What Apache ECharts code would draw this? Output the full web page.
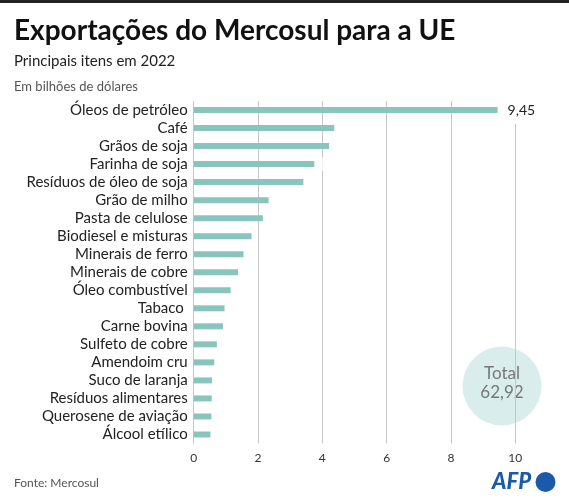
<!DOCTYPE html>
<html><head><meta charset="utf-8">
<script src="https://cdn.jsdelivr.net/npm/echarts@6/dist/echarts.min.js"></script>
<style>html,body{margin:0;padding:0;background:#fff}#c{width:569px;height:500px}</style>
</head><body><div id="c"></div>
<script>
const categories = ["Óleos de petróleo","Café","Grãos de soja","Farinha de soja","Resíduos de óleo de soja","Grão de milho","Pasta de celulose","Biodiesel e misturas","Minerais de ferro","Minerais de cobre","Óleo combustível","Tabaco ","Carne bovina","Sulfeto de cobre","Amendoim cru","Suco de laranja","Resíduos alimentares","Querosene de aviação","Álcool etílico"];
const values = [9.45,4.37,4.21,3.75,3.41,2.33,2.15,1.80,1.55,1.38,1.15,0.96,0.91,0.72,0.64,0.57,0.56,0.55,0.52];
const xTicks = [0,2,4,6,8,10];
const labelText = {0: "9,45"};
const totalText = ["Total","62,92"];
const FONT = "Lato";

const chart = echarts.init(document.getElementById('c'), null, {renderer:'canvas'});
chart.setOption({
  animation:false,
  backgroundColor:'#fff',
  grid:{left:193.7, top:101, width:321.6, height:342.5, containLabel:false},
  xAxis:{type:'value', min:xTicks[0], max:xTicks[xTicks.length-1], interval:2,
    axisLine:{show:false}, axisTick:{show:false},
    splitLine:{show:true, lineStyle:{color:'#c6c6c6', width:1}},
    axisLabel:{color:'#333', fontSize:12, fontFamily:FONT, margin:9}},
  yAxis:{type:'category', data:categories, inverse:true,
    axisLine:{show:false}, axisTick:{show:false},
    axisLabel:{color:'#222', fontSize:15, fontFamily:FONT, margin:6, interval:0}},
  series:[{type:'bar', data:values, barWidth:6, itemStyle:{color:'#88c5bf'},
    label:{show:true, position:'right', distance:8, fontFamily:FONT, fontSize:14, color:'#222',
      backgroundColor:'#fff', padding:[2,2,12,2],
      formatter:p=>labelText[p.dataIndex]||''}}],
  graphic:[
    {type:'rect', shape:{x:0,y:0,width:569,height:3}, style:{fill:'#222'}},
    {type:'text', left:14, top:17, style:{text:'Exportações do Mercosul para a UE', font:'bold 28px '+FONT, fill:'#111'}},
    {type:'text', left:14, top:54, style:{text:'Principais itens em 2022', font:'15px '+FONT, fill:'#222'}},
    {type:'text', left:14, top:80, style:{text:'Em bilhões de dólares', font:'13px '+FONT, fill:'#555'}},
    {type:'circle', shape:{cx:502, cy:386, r:39.5}, style:{fill:'#d9eeec'}},
    {type:'text', x:502, y:374, style:{text:totalText[0], font:'17px '+FONT, fill:'#777', align:'center', verticalAlign:'middle'}},
    {type:'text', x:502, y:393, style:{text:totalText[1], font:'17px '+FONT, fill:'#777', align:'center', verticalAlign:'middle'}},
    {type:'text', left:14, top:477, style:{text:'Fonte: Mercosul', font:'12px '+FONT, fill:'#555'}},
    {type:'text', x:492, y:482, style:{text:'AFP', font:'italic 900 22px '+FONT, fill:'#1a5aa8', verticalAlign:'middle'}},
    {type:'circle', shape:{cx:545.5, cy:482, r:10}, style:{fill:'#1a5aa8'}}
  ]
});
</script></body></html>
